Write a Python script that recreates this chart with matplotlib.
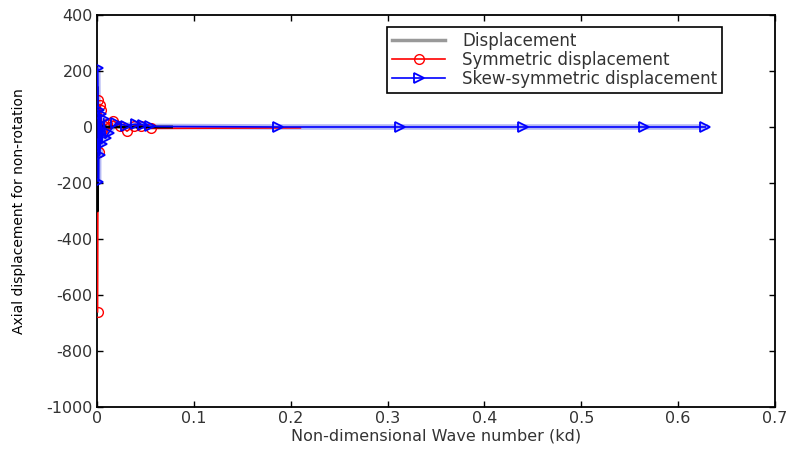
import matplotlib
matplotlib.use("Agg")
import matplotlib.pyplot as plt

plt.rcParams['axes.unicode_minus'] = False

# Displacement (total)
kd_disp = [0.0003, 0.0006, 0.0009, 0.0015, 0.003, 0.01, 0.077]
disp = [140, -300, 60, -20, 5, 0, 0]

# Symmetric displacement
kd_sym = [0.0006, 0.0012, 0.002, 0.003, 0.004, 0.005, 0.007, 0.01, 0.017,
          0.024, 0.031, 0.038, 0.045, 0.056, 0.21]
sym = [-660, 95, -90, 80, 60, -10, 5, 10, 22, 5, -15, 3, 5, -5, -3]

# Skew-symmetric displacement
kd_skew = [0.0008, 0.0015, 0.002, 0.003, 0.004, 0.005, 0.007, 0.009, 0.012,
           0.02, 0.03, 0.04, 0.047, 0.055, 0.187, 0.313, 0.44, 0.565, 0.628]
skew = [210, -195, 60, -100, 45, -60, 30, -40, -20, 15, 5, 10, 8, 2,
        0, 0, 0, 0, 0]

fig = plt.figure(figsize=(7.91, 4.54), dpi=100)
ax = fig.add_axes([0.1226, 0.1035, 0.8572, 0.8635])

ax.plot(kd_disp, disp, color='k', lw=2, zorder=2.7, label='Displacement')
ax.plot(kd_sym, sym, color='red', lw=1.2, marker='o', ms=7, mfc='none',
        mec='red', markevery=list(range(len(kd_sym) - 1)), zorder=2.6,
        label='Symmetric displacement')
# light band under the skew-symmetric curve
ax.plot(kd_skew, skew, color='#b4b8f4', lw=4, zorder=1)
ax.plot(kd_skew, skew, color='blue', lw=1.2, marker='>', ms=7, mfc='none',
        mec='blue', mew=1.3, zorder=2.8, label='Skew-symmetric displacement')

ax.set_xlim(0, 0.7)
ax.set_ylim(-1000, 400)
ax.set_xticks([0, 0.1, 0.2, 0.3, 0.4, 0.5, 0.6, 0.7])
ax.set_xticklabels(['0', '0.1', '0.2', '0.3', '0.4', '0.5', '0.6', '0.7'])
ax.set_yticks(range(-1000, 401, 200))
ax.tick_params(direction='in', length=4, width=1, top=True, right=True,
               labelsize=11.5, labelcolor='#333333', pad=3)
for s in ax.spines.values():
    s.set_linewidth(1.3)

ax.set_xlabel('Non-dimensional Wave number (kd)', fontsize=11.5,
              color='#333333', labelpad=2)
ax.set_ylabel('Axial displacement for non-rotation', fontsize=10,
              family=['Liberation Sans Narrow', 'DejaVu Sans'], labelpad=15)

leg = ax.legend(loc='upper right', bbox_to_anchor=(0.922, 0.969),
                borderaxespad=0, fontsize=12, fancybox=False, framealpha=1,
                edgecolor='k', handlelength=3.2, handletextpad=1.0,
                labelspacing=0.05, borderpad=0.3)
leg.get_frame().set_linewidth(1.2)
leg.get_lines()[0].set_color('0.6')
leg.get_lines()[0].set_linewidth(2.5)
for t in leg.get_texts():
    t.set_color('#333333')

fig.savefig('out.png', dpi=100)
